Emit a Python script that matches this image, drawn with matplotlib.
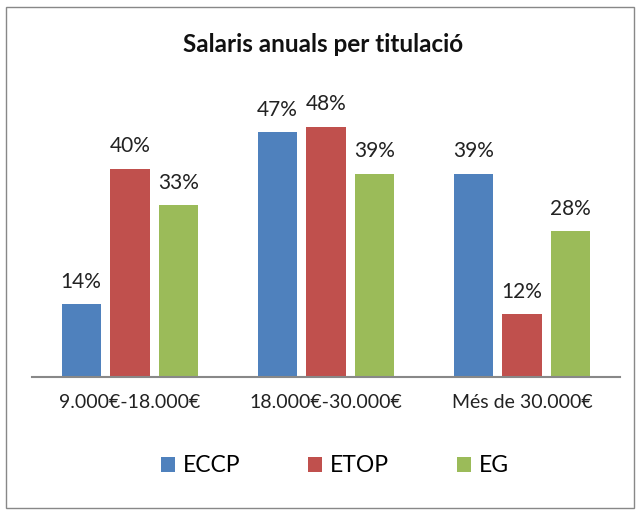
import matplotlib
matplotlib.use("Agg")
import matplotlib.pyplot as plt
import numpy as np
from matplotlib.patches import Rectangle

categories = ["9.000€-18.000€", "18.000€-30.000€", "Més de 30.000€"]
series_names = ["ECCP", "ETOP", "EG"]
eccp = [14, 47, 39]
etop = [40, 48, 12]
eg = [33, 39, 28]
colors = ["#4F81BD", "#C0504D", "#9BBB59"]
title = "Salaris anuals per titulació"

plt.rcParams['font.family'] = ['Lato', 'DejaVu Sans']

W, H = 642, 515
fig = plt.figure(figsize=(W / 100, H / 100), dpi=100)
# outer border
fig.patches.append(Rectangle((6 / W, 7 / H), 628 / W, 501 / H, transform=fig.transFigure,
                             fill=False, edgecolor="#888888", linewidth=1.0))

ax_left, ax_right = 32, 620
ax_bottom_px = 377
px_per_unit = 5.21
ymax = 50
ax_top_px = ax_bottom_px - ymax * px_per_unit
ax = fig.add_axes([ax_left / W, (H - ax_bottom_px) / H, (ax_right - ax_left) / W,
                   (ax_bottom_px - ax_top_px) / H])

x = np.arange(len(categories))
width = 0.2
offsets = [-0.249, 0, 0.249]
all_series = [eccp, etop, eg]
for vals, off, col, name in zip(all_series, offsets, colors, series_names):
    bars = ax.bar(x + off, vals, width, color=col, label=name, zorder=2)
    for b, v in zip(bars, vals):
        ax.annotate(f"{v}%", (b.get_x() + b.get_width() / 2, v), xytext=(0, 9),
                    textcoords="offset points", ha="center", va="bottom",
                    fontsize=15, color="#222222", annotation_clip=False)

ax.set_xlim(-0.5, 2.5)
ax.set_ylim(0, ymax)
for s in ["top", "right", "left"]:
    ax.spines[s].set_visible(False)
ax.spines["bottom"].set_color("#888888")
ax.spines["bottom"].set_linewidth(1.5)
ax.set_yticks([])
ax.set_xticks(x)
ax.set_xticklabels(categories, fontsize=14, color="#222222")
ax.tick_params(axis="x", length=0, pad=12)

fig.text(323 / W, 1 - 45 / H, title, ha="center", va="center", fontsize=17.5,
         fontweight="bold", color="#111111")

leg = fig.legend(loc="center", bbox_to_anchor=(335 / W, 1 - 466 / H), ncol=3,
                 frameon=False, fontsize=16.5, handlelength=0.6, handleheight=0.6,
                 handletextpad=0.35, columnspacing=2.95)

fig.savefig("out.png", dpi=100)
